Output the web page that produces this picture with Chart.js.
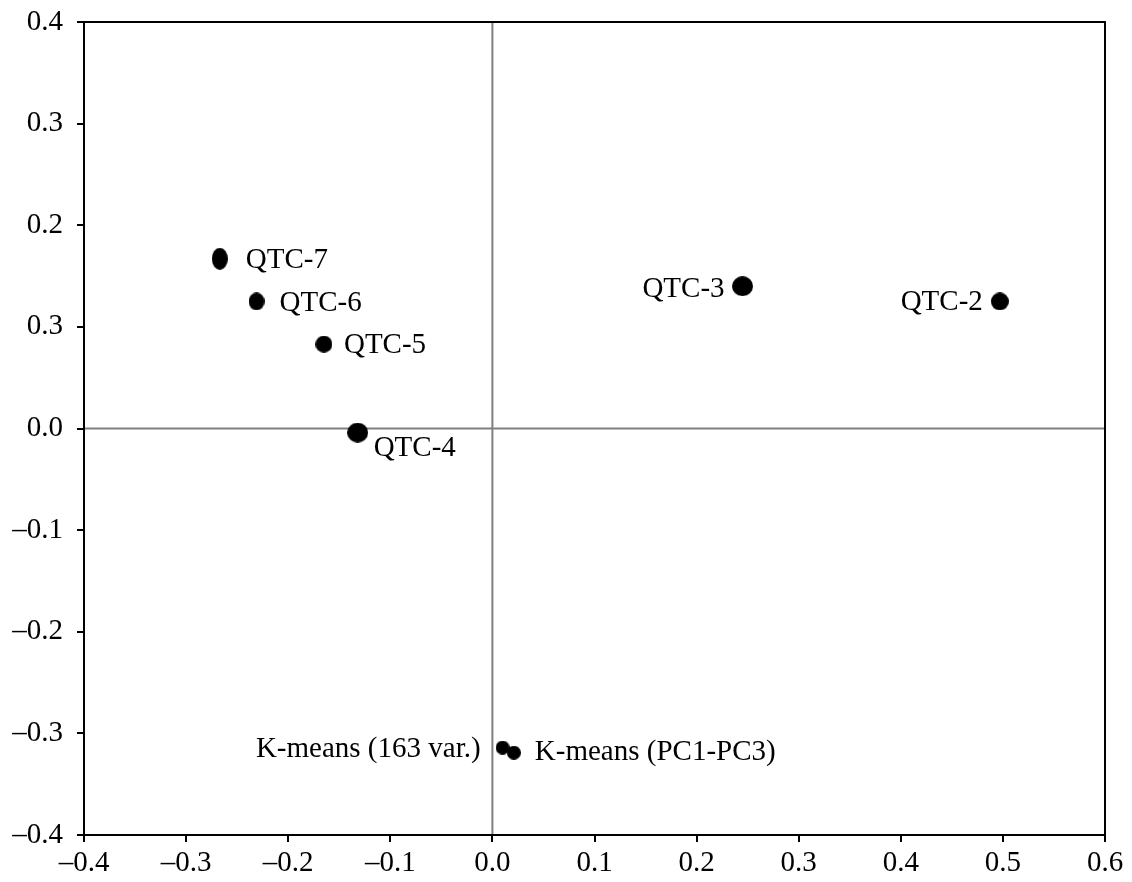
<!DOCTYPE html>
<html>
<head>
<meta charset="utf-8">
<style>html,body{margin:0;padding:0;background:#fff}canvas{display:block}</style>
<script src="https://cdn.jsdelivr.net/npm/chart.js@4.4.0/dist/chart.umd.min.js"></script>
</head>
<body>
<canvas id="c" width="1132" height="882"></canvas>
<script>
// ---- data ----
const pointNames = ['QTC-7', 'QTC-6', 'QTC-5', 'QTC-4', 'QTC-3', 'QTC-2', 'K-means (163 var.)', 'K-means (PC1-PC3)'];
const xValues = [-0.267, -0.231, -0.165, -0.132, 0.245, 0.497, 0.010, 0.021];
const yValues = [0.167, 0.125, 0.083, -0.004, 0.140, 0.125, -0.314, -0.319];
const xTickValues = [-0.4, -0.3, -0.2, -0.1, 0.0, 0.1, 0.2, 0.3, 0.4, 0.5, 0.6];
const xTickLabels = ['\u20130.4', '\u20130.3', '\u20130.2', '\u20130.1', '0.0', '0.1', '0.2', '0.3', '0.4', '0.5', '0.6'];
const yTickValues = [-0.4, -0.3, -0.2, -0.1, 0.0, 0.1, 0.2, 0.3, 0.4];
const yTickLabels = ['\u20130.4', '\u20130.3', '\u20130.2', '\u20130.1', '0.0', '0.3', '0.2', '0.3', '0.4'];

// ---- styles ----
const FONT = "'Liberation Serif', 'Times New Roman', serif";
const FSIZE = 29;
const markerSizes = [[16, 22], [16, 18], [17, 17], [21, 20], [21, 20], [18, 18], [14, 14], [14, 14]];
// [dx, dy, align]
const labelOffsets = [[26, 0, 'left'], [23, 1, 'left'], [20, 0, 'left'], [16, 14, 'left'],
                      [-18, 2, 'right'], [-17, 0, 'right'], [-22, 0, 'right'], [21, -2, 'left']];

function ellipseStyle(w, h) {
  const cv = document.createElement('canvas');
  cv.width = w; cv.height = h;
  const g = cv.getContext('2d');
  g.fillStyle = '#000';
  g.beginPath();
  g.ellipse(w / 2, h / 2, w / 2, h / 2, 0, 0, Math.PI * 2);
  g.fill();
  return cv;
}
const pointStyles = markerSizes.map(s => ellipseStyle(s[0], s[1]));

const points = xValues.map((x, i) => ({ x: x, y: yValues[i] }));

const framePlugin = {
  id: 'frame',
  beforeDatasetsDraw(chart) {
    const { ctx, chartArea: a, scales } = chart;
    ctx.save();
    ctx.strokeStyle = '#808080';
    ctx.lineWidth = 2;
    const x0 = scales.x.getPixelForValue(0);
    const y0 = scales.y.getPixelForValue(0);
    ctx.beginPath();
    ctx.moveTo(x0, a.top); ctx.lineTo(x0, a.bottom);
    ctx.moveTo(a.left, y0); ctx.lineTo(a.right, y0);
    ctx.stroke();
    ctx.strokeStyle = '#000';
    ctx.lineWidth = 2;
    ctx.strokeRect(a.left, a.top, a.right - a.left, a.bottom - a.top);
    ctx.restore();
  }
};

const labelPlugin = {
  id: 'pointLabels',
  afterDatasetsDraw(chart) {
    const { ctx } = chart;
    const meta = chart.getDatasetMeta(0);
    ctx.save();
    ctx.font = FSIZE + 'px ' + FONT;
    ctx.fillStyle = '#000';
    ctx.textBaseline = 'alphabetic';
    meta.data.forEach((el, i) => {
      const o = labelOffsets[i];
      ctx.textAlign = o[2];
      ctx.fillText(pointNames[i], el.x + o[0], el.y + o[1] + FSIZE * 0.31);
    });
    ctx.restore();
  }
};

new Chart(document.getElementById('c'), {
  type: 'scatter',
  data: {
    datasets: [{
      data: points,
      pointStyle: pointStyles,
      backgroundColor: '#000',
      borderColor: '#000',
      pointRadius: 10,
      pointHoverRadius: 10
    }]
  },
  options: {
    responsive: false,
    animation: false,
    layout: { padding: { top: 22, right: 27, left: 0, bottom: 0 } },
    plugins: { legend: { display: false }, tooltip: { enabled: false } },
    scales: {
      x: {
        type: 'linear', min: -0.4, max: 0.6,
        afterBuildTicks: s => { s.ticks = xTickValues.map(v => ({ value: v })); },
        afterFit: s => { s.height = 47; s.paddingLeft = 0; s.paddingRight = 0; },
        ticks: {
          callback: (v, i) => xTickLabels[i],
          font: { family: FONT, size: FSIZE }, color: '#000', padding: 4, maxRotation: 0, autoSkip: false
        },
        grid: { drawOnChartArea: false, drawTicks: true, tickLength: 7, color: '#000', lineWidth: 2 },
        border: { display: false }
      },
      y: {
        type: 'linear', min: -0.4, max: 0.4,
        afterBuildTicks: s => { s.ticks = yTickValues.map(v => ({ value: v })); },
        afterFit: s => { s.width = 84; s.paddingTop = 0; s.paddingBottom = 0; },
        ticks: {
          callback: (v, i) => yTickLabels[i],
          font: { family: FONT, size: FSIZE }, color: '#000', padding: 14, autoSkip: false
        },
        grid: { drawOnChartArea: false, drawTicks: true, tickLength: 7, color: '#000', lineWidth: 2 },
        border: { display: false }
      }
    }
  },
  plugins: [framePlugin, labelPlugin]
});
</script>
</body>
</html>
